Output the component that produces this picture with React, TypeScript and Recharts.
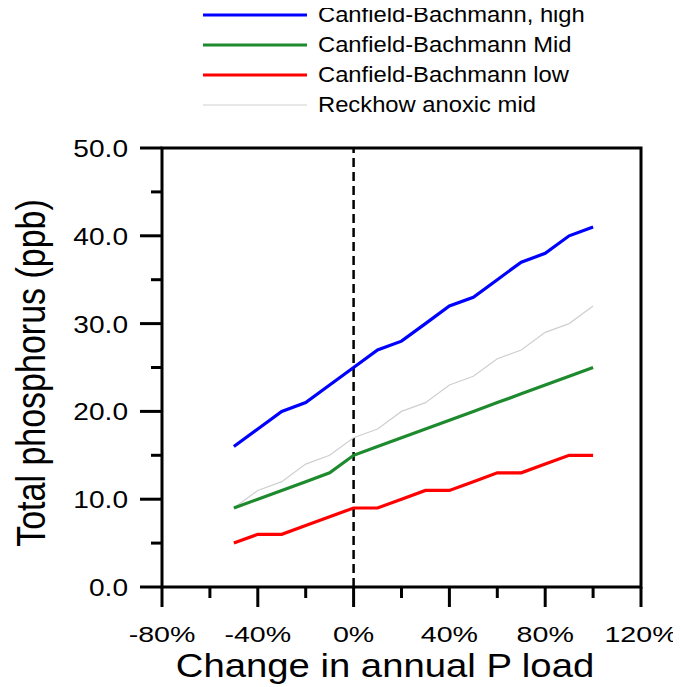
import React from 'react';
import { LineChart, Line, XAxis, YAxis, ReferenceLine, ReferenceArea, Legend, Label } from 'recharts';

const loadChange = [-50, -40, -30, -20, -10, 0, 10, 20, 30, 40, 50, 60, 70, 80, 90, 100];
const cbHigh = [16, 18, 20, 21, 23, 25, 27, 28, 30, 32, 33, 35, 37, 38, 40, 41];
const cbMid = [9, 10, 11, 12, 13, 15, 16, 17, 18, 19, 20, 21, 22, 23, 24, 25];
const cbLow = [5, 6, 6, 7, 8, 9, 9, 10, 11, 11, 12, 13, 13, 14, 15, 15];
const reckhowMid = [9, 11, 12, 14, 15, 17, 18, 20, 21, 23, 24, 26, 27, 29, 30, 32];

const xTicks = [-80, -60, -40, -20, 0, 20, 40, 60, 80, 100, 120];
const xLabelTicks = [-80, -40, 0, 40, 80, 120];
const yTicks = [0, 5, 10, 15, 20, 25, 30, 35, 40, 45, 50];
const yLabelTicks = [0, 10, 20, 30, 40, 50];

const seriesNames = [
  'Canfield-Bachmann, high',
  'Canfield-Bachmann Mid',
  'Canfield-Bachmann low',
  'Reckhow anoxic mid',
];
const seriesKeys = ['high', 'mid', 'low', 'reckhow'];
const seriesColors = ['#0000FF', '#1E8A2E', '#FF0000', '#CFCFCF'];
const seriesWidths = [3.2, 3.2, 3.2, 1.2];

const xTitle = 'Change in annual P load';
const yTitle = 'Total phosphorus (ppb)';

const data = loadChange.map((x, i) => ({
  x,
  high: cbHigh[i],
  mid: cbMid[i],
  low: cbLow[i],
  reckhow: reckhowMid[i],
}));

const FONT = "'Liberation Sans', Arial, sans-serif";

const XTick = (props: any) => {
  const { x, y, payload } = props;
  const v = payload.value;
  const major = xLabelTicks.includes(v);
  return (
    <g>
      <line x1={x} x2={x} y1={y} y2={y + (major ? 20 : 11)} stroke="#000" strokeWidth={3} />
      {major && (
        <text
          transform={`translate(${x},${y + 55}) scale(1.3,1)`}
          textAnchor="middle"
          fontSize={22}
          fontFamily={FONT}
          fill="#000"
        >
          {`${v}%`}
        </text>
      )}
    </g>
  );
};

const YTick = (props: any) => {
  const { x, y, payload } = props;
  const v = payload.value;
  const major = yLabelTicks.includes(v);
  return (
    <g>
      <line x1={x} x2={x - (major ? 22 : 11)} y1={y} y2={y} stroke="#000" strokeWidth={3} />
      {major && (
        <text
          transform={`translate(${x - 34},${y + 9}) scale(1.17,1)`}
          textAnchor="end"
          fontSize={24}
          fontFamily={FONT}
          fill="#000"
        >
          {v.toFixed(1)}
        </text>
      )}
    </g>
  );
};

const LegendBox = () => (
  <div style={{ fontFamily: FONT }}>
    {seriesNames.map((name, i) => (
      <div key={name} style={{ display: 'flex', alignItems: 'center', height: 30 }}>
        <svg width={104} height={30} style={{ display: 'block' }}>
          <line x1={0} x2={104} y1={15} y2={15} stroke={seriesColors[i]} strokeWidth={seriesWidths[i]} />
        </svg>
        <span
          style={{
            marginLeft: 11,
            fontSize: 22,
            color: '#000',
            display: 'inline-block',
            transform: 'scaleX(1.08)',
            transformOrigin: 'left center',
            whiteSpace: 'nowrap',
            lineHeight: '30px',
          }}
        >
          {name}
        </span>
      </div>
    ))}
  </div>
);

export default function App() {
  return (
    <div style={{ fontFamily: FONT }}>
      <LineChart width={673} height={679} data={data} margin={{ top: 140, right: 40, bottom: 0, left: 0 }}>
        <XAxis
          dataKey="x"
          type="number"
          domain={[-80, 120]}
          ticks={xTicks}
          interval={0}
          height={100}
          axisLine={false}
          tickLine={false}
          tickSize={0}
          tickMargin={0}
          tick={<XTick />}
          allowDataOverflow
        >
          <Label
            content={() => (
              <text
                transform={`translate(377,669) scale(1.16,1)`}
                textAnchor="middle"
                fontSize={33}
                fontFamily={FONT}
                fill="#000"
              >
                {xTitle}
              </text>
            )}
          />
        </XAxis>
        <YAxis
          type="number"
          domain={[0, 50]}
          ticks={yTicks}
          interval={0}
          width={154}
          axisLine={false}
          tickLine={false}
          tickSize={0}
          tickMargin={0}
          tick={<YTick />}
          allowDataOverflow
        >
          <Label
            content={() => (
              <text
                transform={`translate(37,365) scale(1.2,1) rotate(-90)`}
                textAnchor="middle"
                fontSize={34}
                fontFamily={FONT}
                fill="#000"
              >
                {yTitle}
              </text>
            )}
          />
        </YAxis>
        <ReferenceArea x1={-80} x2={120} y1={0} y2={50} fill="none" fillOpacity={0} stroke="#000" strokeWidth={3} />
        <ReferenceLine x={0} stroke="#000" strokeWidth={2.5} strokeDasharray="9 5" />
        <Legend
          layout="vertical"
          align="center"
          verticalAlign="middle"
          wrapperStyle={{ left: 195, top: -8, width: 420, height: 120 }}
          content={() => <LegendBox />}
        />
        {[3, 0, 1, 2].map((i) => (
          <Line
            key={seriesKeys[i]}
            type="linear"
            dataKey={seriesKeys[i]}
            name={seriesNames[i]}
            stroke={seriesColors[i]}
            strokeWidth={seriesWidths[i]}
            dot={false}
            activeDot={false}
            isAnimationActive={false}
          />
        ))}
      </LineChart>
    </div>
  );
}
